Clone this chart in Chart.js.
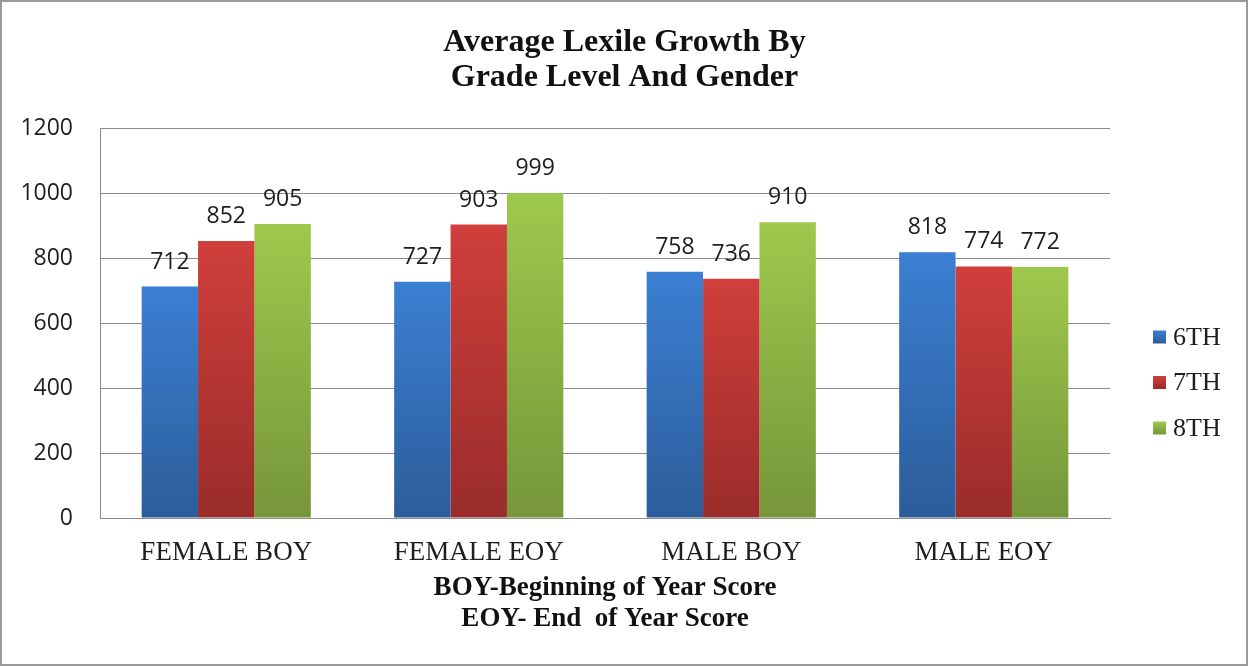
<!DOCTYPE html>
<html>
<head>
<meta charset="utf-8">
<script src="https://cdn.jsdelivr.net/npm/chart.js@4"></script>
<style>
  html, body { margin: 0; padding: 0; background: #fff; }
  #wrap { width: 1249px; height: 666px; position: relative; }
</style>
</head>
<body>
<div id="wrap"><canvas id="lexileChart"></canvas></div>
<script>
// Data
const categories = ['FEMALE BOY', 'FEMALE EOY', 'MALE BOY', 'MALE EOY'];
const seriesLabels = ['6TH', '7TH', '8TH'];
const grade6 = [712, 727, 758, 818];
const grade7 = [852, 903, 736, 774];
const grade8 = [905, 999, 910, 772];
const titleLines = ['Average Lexile Growth By', 'Grade Level And Gender'];
const axisTitleLines = ['BOY-Beginning of Year Score', 'EOY- End  of Year Score'];

const SERIF = '"Liberation Serif", "Times New Roman", serif';
const SANS = '"Open Sans", "Liberation Sans", sans-serif';

// top colour / bottom colour of each series gradient
const colorStops = [
    ['#3b7fd2', '#2c5d9a'],
    ['#d03f3b', '#992c2a'],
    ['#9ec94c', '#76963a']
];

// each bar gets its own vertical gradient, bright at the top
function barGradient(idx) {
    return function(context) {
        const chart = context.chart;
        const yScale = chart.scales.y;
        if (!chart.chartArea || !yScale || context.parsed === undefined) return colorStops[idx][0];
        const top = yScale.getPixelForValue(context.parsed.y);
        const bottom = yScale.getPixelForValue(0);
        if (!isFinite(top) || !isFinite(bottom) || top === bottom) return colorStops[idx][0];
        const g = chart.ctx.createLinearGradient(0, top, 0, bottom);
        g.addColorStop(0, colorStops[idx][0]);
        g.addColorStop(1, colorStops[idx][1]);
        return g;
    };
}

// white background, grey frame, and the title centred on the whole picture
const framePlugin = {
    id: 'frame',
    beforeDraw(chart) {
        const c = chart.ctx;
        c.save();
        c.fillStyle = '#fff';
        c.fillRect(0, 0, chart.width, chart.height);
        c.restore();
    },
    afterDraw(chart) {
        const c = chart.ctx;
        c.save();
        c.font = 'bold 32px ' + SERIF;
        c.fillStyle = '#111';
        c.textAlign = 'center';
        c.textBaseline = 'middle';
        titleLines.forEach((t, i) => c.fillText(t, chart.width / 2, 43 + i * 35));
        c.strokeStyle = '#9a9a9a';
        c.lineWidth = 2;
        c.strokeRect(1, 1, chart.width - 3, chart.height - 2);
        c.restore();
    }
};

// value labels above each bar
const valueLabels = {
    id: 'valueLabels',
    afterDatasetsDraw(chart) {
        const c = chart.ctx;
        c.save();
        c.font = '23px ' + SANS;
        c.fillStyle = '#1e1e1e';
        c.textAlign = 'center';
        c.textBaseline = 'alphabetic';
        chart.data.datasets.forEach((ds, i) => {
            const meta = chart.getDatasetMeta(i);
            meta.data.forEach((bar, j) => {
                c.fillText(String(ds.data[j]), bar.x, bar.y - 18);
            });
        });
        c.restore();
    }
};

// legend on the right, square markers
const sideLegend = {
    id: 'sideLegend',
    afterDraw(chart) {
        const c = chart.ctx;
        c.save();
        c.font = '26px ' + SERIF;
        c.textBaseline = 'middle';
        c.textAlign = 'left';
        chart.data.datasets.forEach((ds, i) => {
            const cy = 337 + i * 45.5;
            const g = c.createLinearGradient(0, cy - 6.5, 0, cy + 6.5);
            g.addColorStop(0, colorStops[i][0]);
            g.addColorStop(1, colorStops[i][1]);
            c.fillStyle = g;
            c.fillRect(1153, cy - 6.5, 13, 13);
            c.fillStyle = '#1e1e1e';
            c.fillText(ds.label, 1173, cy + 1);
        });
        c.restore();
    }
};

const seriesData = [grade6, grade7, grade8];

new Chart(document.getElementById('lexileChart'), {
    type: 'bar',
    data: {
        labels: categories,
        datasets: seriesLabels.map((lbl, i) => ({
            label: lbl,
            data: seriesData[i],
            backgroundColor: barGradient(i),
            borderWidth: 0,
            barPercentage: 1.0,
            categoryPercentage: 0.67
        }))
    },
    options: {
        responsive: true,
        maintainAspectRatio: false,
        animation: false,
        devicePixelRatio: 1,
        layout: { padding: { left: 0, right: 139, top: 128, bottom: 0 } },
        plugins: {
            legend: { display: false },
            tooltip: { enabled: false },
            title: { display: false }
        },
        scales: {
            x: {
                grid: { display: false, drawTicks: false },
                border: { display: true, color: '#8c8c8c', width: 1 },
                ticks: {
                    color: '#1e1e1e',
                    padding: 19,
                    font: { family: SERIF, size: 27 }
                },
                title: {
                    display: true,
                    text: axisTitleLines,
                    color: '#111',
                    font: { family: SERIF, size: 27, weight: 'bold', lineHeight: 31 / 27 },
                    padding: { top: 0, bottom: 31 }
                },
                afterFit(scale) { scale.height = 148; }
            },
            y: {
                min: 0,
                max: 1200,
                ticks: {
                    stepSize: 200,
                    color: '#1e1e1e',
                    padding: 27,
                    font: { family: SANS, size: 23 },
                    callback: v => String(v)
                },
                grid: { color: '#8c8c8c', lineWidth: 1, drawTicks: false },
                border: { display: true, color: '#8c8c8c', width: 1 },
                afterFit(scale) { scale.width = 100; }
            }
        }
    },
    plugins: [framePlugin, valueLabels, sideLegend]
});
</script>
</body>
</html>
